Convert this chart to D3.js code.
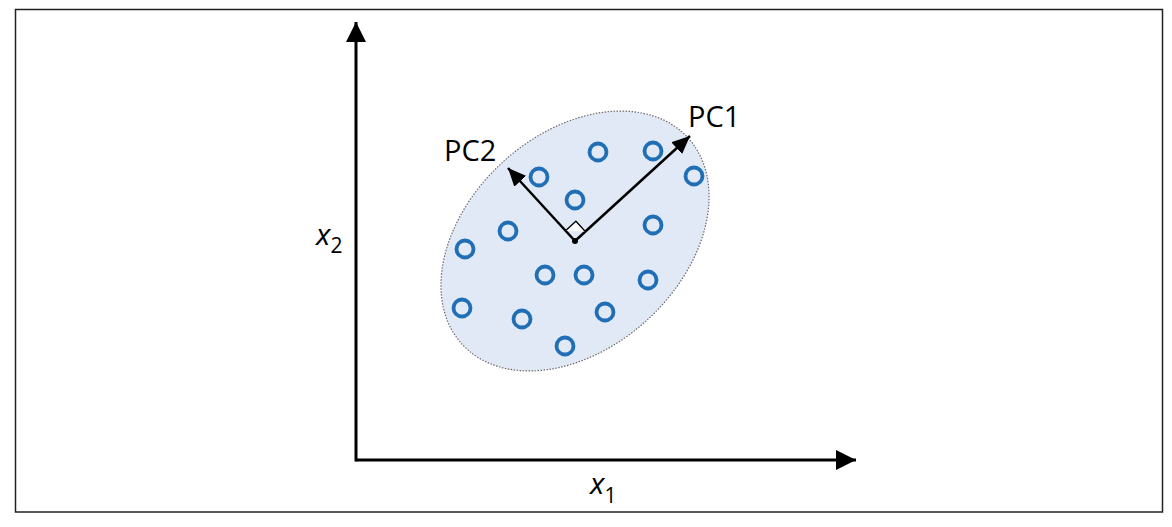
<!DOCTYPE html>
<html>
<head>
<meta charset="utf-8">
<script src="https://cdn.jsdelivr.net/npm/d3@7"></script>
<style>
  html, body { margin: 0; padding: 0; background: #fff; }
  svg { display: block; }
</style>
</head>
<body>
<svg id="chart" width="1172" height="527"></svg>
<script>
// ---- data (in axis units) ----
const pointX1 = [242, 297, 338, 183, 219, 152, 297, 109, 189, 228, 292, 106, 166, 249, 209];
const pointX2 = [308, 309, 284, 283, 260, 229, 235, 211, 185, 185, 180, 152, 141, 148, 114];
const meanPoint = [219, 219];
const pc1Tip = [334, 324];
const pc2Tip = [152, 292];
const ellipseRadii = [153, 107];   // semi-axes along PC1, PC2 (axis units)
const ellipseAngleDeg = 42.4;
const axisLabels = ["x", "x"];
const axisSubs = ["1", "2"];
const pcLabels = ["PC1", "PC2"];

const svg = d3.select("#chart");

// frame
svg.append("rect").attr("x", 15.5).attr("y", 9.5).attr("width", 1147).attr("height", 502.5)
  .attr("fill", "#fff").attr("stroke", "#222").attr("stroke-width", 1.5);

const x = d3.scaleLinear().domain([0, 500]).range([356, 856]);
const y = d3.scaleLinear().domain([0, 438]).range([460, 22]);

const defs = svg.append("defs");
defs.append("marker").attr("id", "axisHead").attr("viewBox", "0 0 20 20")
  .attr("refX", 20).attr("refY", 10).attr("markerWidth", 20).attr("markerHeight", 20)
  .attr("markerUnits", "userSpaceOnUse").attr("orient", "auto")
  .append("path").attr("d", "M0,0 L20,10 L0,20 Z").attr("fill", "#000");
defs.append("marker").attr("id", "pcHead").attr("viewBox", "0 0 18 16")
  .attr("refX", 18).attr("refY", 8).attr("markerWidth", 18).attr("markerHeight", 16)
  .attr("markerUnits", "userSpaceOnUse").attr("orient", "auto")
  .append("path").attr("d", "M0,0 L18,8 L0,16 Z").attr("fill", "#000");

// ellipse
const cx = x(meanPoint[0]), cy = y(meanPoint[1]);
const rx = x(ellipseRadii[0]) - x(0), ry = y(0) - y(ellipseRadii[1]);
svg.append("ellipse").attr("cx", cx).attr("cy", cy).attr("rx", rx).attr("ry", ry)
  .attr("transform", `rotate(${-ellipseAngleDeg},${cx},${cy})`)
  .attr("fill", "#e0e9f5").attr("stroke", "#6b6b6b").attr("stroke-width", 1.2)
  .attr("stroke-dasharray", "1.5,1.5");

// axes
svg.append("line").attr("x1", x(0)).attr("y1", y(0)).attr("x2", x(500)).attr("y2", y(0))
  .attr("stroke", "#000").attr("stroke-width", 3).attr("marker-end", "url(#axisHead)");
svg.append("line").attr("x1", x(0)).attr("y1", y(0)+1.5).attr("x2", x(0)).attr("y2", y(438))
  .attr("stroke", "#000").attr("stroke-width", 3).attr("marker-end", "url(#axisHead)");

// points
svg.append("g").selectAll("circle").data(pointX1.map((v, i) => [v, pointX2[i]])).join("circle")
  .attr("cx", d => x(d[0])).attr("cy", d => y(d[1])).attr("r", 8.5)
  .attr("fill", "none").attr("stroke", "#1f6eb6").attr("stroke-width", 3.8);

// PC arrows
[pc1Tip, pc2Tip].forEach(t => {
  svg.append("line").attr("x1", cx).attr("y1", cy).attr("x2", x(t[0])).attr("y2", y(t[1]))
    .attr("stroke", "#000").attr("stroke-width", 2.5).attr("marker-end", "url(#pcHead)");
});

// right angle marker
const a = ellipseAngleDeg * Math.PI / 180, s = 14;
const u1 = [Math.cos(a), -Math.sin(a)], u2 = [-Math.sin(a), -Math.cos(a)];
svg.append("path")
  .attr("d", `M${cx+s*u1[0]},${cy+s*u1[1]} L${cx+s*(u1[0]+u2[0])},${cy+s*(u1[1]+u2[1])} L${cx+s*u2[0]},${cy+s*u2[1]}`)
  .attr("fill", "#fff").attr("stroke", "#000").attr("stroke-width", 1.3);
svg.append("circle").attr("cx", cx).attr("cy", cy).attr("r", 3).attr("fill", "#000");

// labels
const font = "'Open Sans', 'Noto Sans', sans-serif";
svg.append("text").attr("x", 688).attr("y", 127).text(pcLabels[0])
  .attr("font-family", font).attr("font-size", 29).attr("fill", "#000");
svg.append("text").attr("x", 444).attr("y", 161).text(pcLabels[1])
  .attr("font-family", font).attr("font-size", 29).attr("fill", "#000");

const t1 = svg.append("text").attr("x", 590).attr("y", 494).attr("font-family", font).attr("fill", "#000");
t1.append("tspan").attr("font-style", "italic").attr("font-size", 30).text(axisLabels[0]);
t1.append("tspan").attr("font-size", 21).attr("dy", 9).text(axisSubs[0]);

const t2 = svg.append("text").attr("x", 316).attr("y", 245).attr("font-family", font).attr("fill", "#000");
t2.append("tspan").attr("font-style", "italic").attr("font-size", 30).text(axisLabels[1]);
t2.append("tspan").attr("font-size", 21).attr("dy", 8).text(axisSubs[1]);
</script>
</body>
</html>
